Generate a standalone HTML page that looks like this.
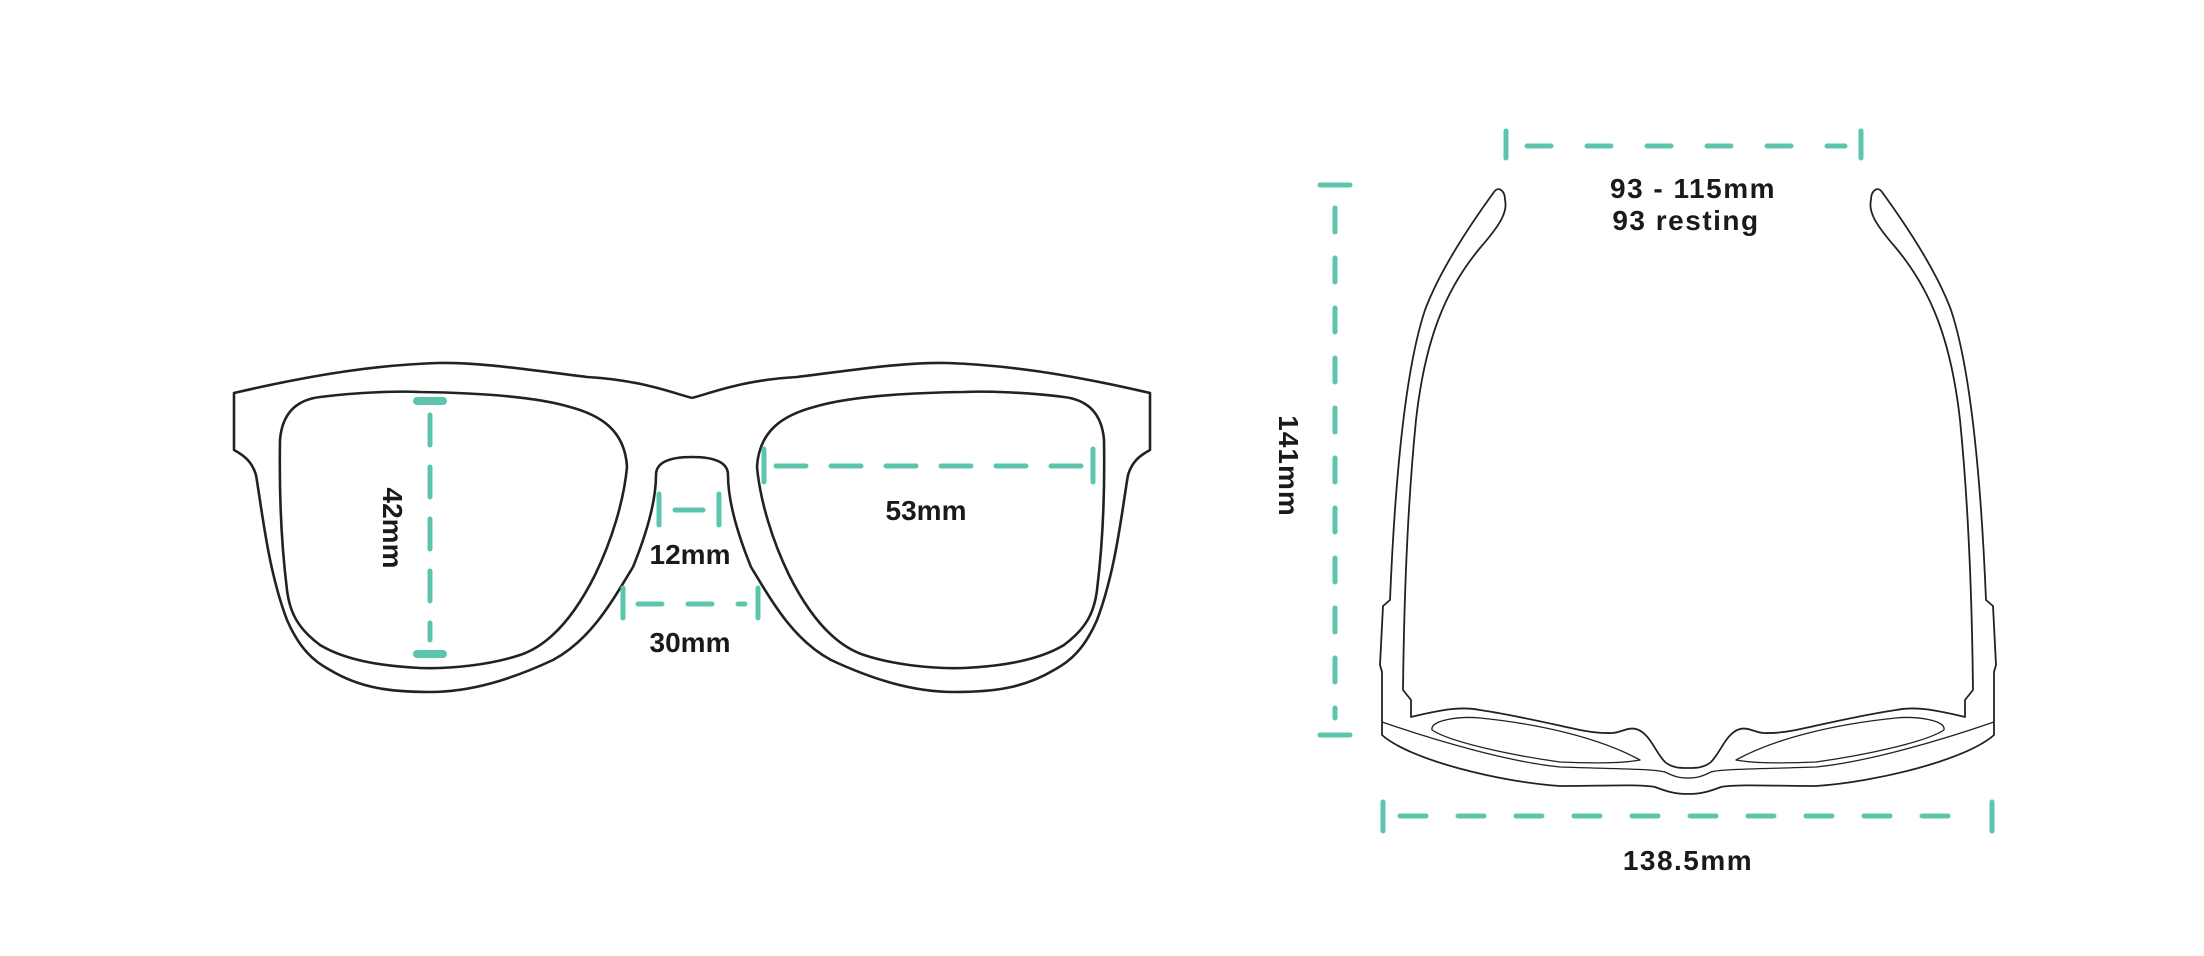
<!DOCTYPE html>
<html><head><meta charset="utf-8"><style>
html,body{margin:0;padding:0;background:#fff;}
svg{display:block;}
text{font-family:"Liberation Sans",sans-serif;font-weight:bold;fill:#1a1a1a;}
</style></head><body>
<svg width="2204" height="956" viewBox="0 0 2204 956" xmlns="http://www.w3.org/2000/svg">
<rect width="2204" height="956" fill="#fff"/>
<g fill="none" stroke="#222" stroke-width="2.6" stroke-linejoin="round">
  <g id="fl">
    <path d="M692,398 C670,392 640,380 587,377 C530,370 480,362 437,363 C380,365 320,373 234,393 L234,450 C245,456 252,462 256,475 C262,510 268,570 287,620 C300,650 315,662 330,670 C360,688 390,692 430,692 C470,692 510,680 553,660 C590,640 610,605 633,567 C648,530 656,500 656,475 C656,462 670,457 692,457"/>
    <path d="M280,440 C282,415 295,400 320,397 C360,392 400,391 420,392 C490,393 540,398 570,407 C600,415 625,430 627,467 C624,500 612,540 595,575 C575,615 550,645 520,655 C490,665 450,669 420,668 C380,666 345,660 320,645 C300,630 290,615 287,590 C282,550 279,500 280,440 Z"/>
  </g>
  <use href="#fl" transform="translate(1384,0) scale(-1,1)"/>
</g>
<g fill="none" stroke="#222" stroke-width="1.8" stroke-linejoin="round">
  <g id="tl">
    <path d="M1505,200 C1505,190 1498,186 1494,192 C1470,225 1440,270 1425,310 C1405,370 1395,480 1390,600 L1383,606 L1380,665 L1382,672 L1382,735 C1410,760 1500,782 1560,786 C1600,786 1640,784 1655,787 C1668,792 1676,794 1688,794"/>
    <path d="M1505,200 C1508,212 1500,225 1480,248 C1445,290 1425,340 1416,420 C1408,500 1404,600 1403,690 L1411,700 L1411,717 C1440,710 1460,706 1480,710 C1520,716 1560,726 1580,730 C1600,734 1608,733 1613,733 C1622,732 1628,727 1636,729 C1650,733 1655,752 1665,762 C1672,768 1680,768 1688,768"/>
    <path d="M1382,722 C1440,742 1510,762 1560,767 C1620,769 1655,769 1665,772 C1675,777 1680,778 1688,778" stroke-width="1.3"/>
    <path d="M1432,730 C1430,720 1460,716 1480,718 C1540,724 1600,738 1640,760 C1620,764 1580,763 1560,762 C1510,755 1450,742 1432,730 Z" stroke-width="1.3"/>
  </g>
  <use href="#tl" transform="translate(3376,0) scale(-1,1)"/>
</g>
<g stroke="#5cc6ad" stroke-width="5" fill="none" stroke-linecap="round">
  <line x1="430" y1="415" x2="430" y2="640" stroke-dasharray="30 22"/>
  <line x1="417" y1="401" x2="443" y2="401" stroke-width="8"/>
  <line x1="417" y1="654" x2="443" y2="654" stroke-width="8"/>
  <line x1="776" y1="466" x2="1082" y2="466" stroke-dasharray="30 25"/>
  <line x1="764" y1="449" x2="764" y2="482"/>
  <line x1="1093" y1="449" x2="1093" y2="482"/>
  <line x1="659" y1="494" x2="659" y2="525"/>
  <line x1="719" y1="494" x2="719" y2="525"/>
  <line x1="675" y1="510" x2="703" y2="510"/>
  <line x1="623" y1="588" x2="623" y2="618"/>
  <line x1="758" y1="588" x2="758" y2="618"/>
  <line x1="638" y1="604" x2="745" y2="604" stroke-dasharray="24 26"/>
  <line x1="1320" y1="185" x2="1350" y2="185"/>
  <line x1="1320" y1="735" x2="1350" y2="735"/>
  <line x1="1335" y1="208" x2="1335" y2="718" stroke-dasharray="24 26"/>
  <line x1="1506" y1="131" x2="1506" y2="158"/>
  <line x1="1861" y1="131" x2="1861" y2="158"/>
  <line x1="1527" y1="146" x2="1845" y2="146" stroke-dasharray="24 36"/>
  <line x1="1383" y1="802" x2="1383" y2="831"/>
  <line x1="1992" y1="802" x2="1992" y2="831"/>
  <line x1="1400" y1="816" x2="1975" y2="816" stroke-dasharray="26 32"/>
</g>
<text x="926" y="520" font-size="28" text-anchor="middle">53mm</text>
<text x="690" y="564" font-size="28" text-anchor="middle">12mm</text>
<text x="690" y="652" font-size="28" text-anchor="middle">30mm</text>
<text transform="translate(383,528) rotate(90)" font-size="28" text-anchor="middle">42mm</text>
<text transform="translate(1279,466) rotate(90)" font-size="28" text-anchor="middle" letter-spacing="1">141mm</text>
<text x="1693" y="198" font-size="28" text-anchor="middle" letter-spacing="1.5">93 - 115mm</text>
<text x="1686" y="230" font-size="28" text-anchor="middle" letter-spacing="1.5">93 resting</text>
<text x="1688" y="870" font-size="28" text-anchor="middle" letter-spacing="1.5">138.5mm</text>
</svg>
</body></html>
